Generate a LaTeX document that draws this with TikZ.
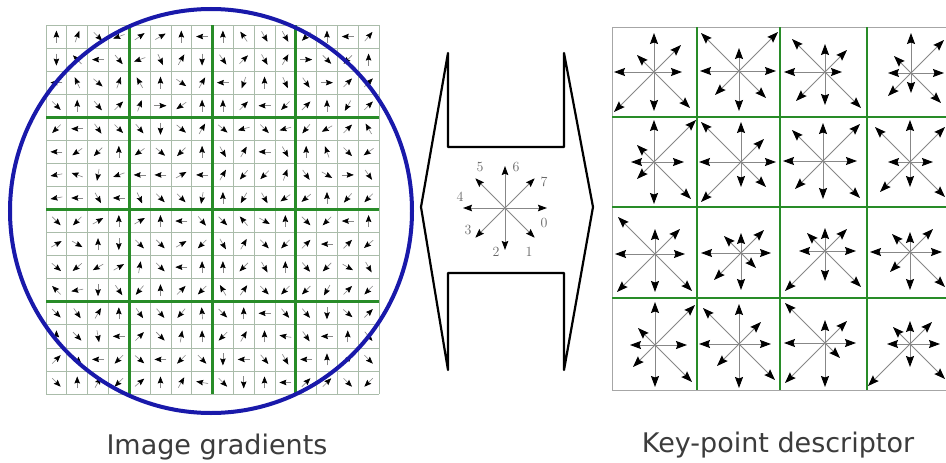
\documentclass[tikz,border=0pt]{standalone}
\usepackage{fontspec}
\setsansfont{DejaVu Sans}
\usetikzlibrary{arrows.meta}
\definecolor{gridgreen}{RGB}{40,140,40}
\definecolor{finegray}{RGB}{170,188,170}
\definecolor{circblue}{RGB}{25,25,170}
\definecolor{shaftgray}{RGB}{135,135,135}
\definecolor{captxt}{RGB}{60,60,60}
\begin{document}
\begin{tikzpicture}[x=1pt,y=-1pt,
  finegrid/.style={draw=finegray,line width=0.7pt},
  biggrid/.style={draw=gridgreen,line width=2.8pt},
  larr/.style={draw=shaftgray,line width=0.6pt,-{Stealth[color=black,length=7pt,width=5.5pt,inset=1pt]}},
  rarr/.style={draw=shaftgray,line width=0.9pt,-{Stealth[color=black,length=11pt,width=8pt,inset=1.5pt]}},
  carr/.style={draw=shaftgray,line width=0.9pt,-{Stealth[color=black,length=9pt,width=6.5pt,inset=1.2pt]}},
  lbl/.style={font=\fontsize{14}{14}\selectfont,text=black!60,inner sep=0pt},
  caption/.style={font=\sffamily\fontsize{27}{30}\selectfont,text=captxt,anchor=base}]
\useasboundingbox (0,0) rectangle (946,463);
\clip (0,0) rectangle (946,463);
\fill[white] (0,0) rectangle (946,463);
% ---------- left grid ----------
\foreach \i in {0,...,16}{
  \pgfmathsetmacro\xx{46+\i*20.8125}
  \pgfmathsetmacro\yy{25+\i*23.0625}
  \draw[finegrid] (\xx,25) -- (\xx,394);
  \draw[finegrid] (46,\yy) -- (379,\yy);
}
\foreach \i in {4,8,12}{
  \pgfmathsetmacro\xx{46+\i*20.8125}
  \pgfmathsetmacro\yy{25+\i*23.0625}
  \draw[biggrid] (\xx,25) -- (\xx,394);
  \draw[biggrid] (46,\yy) -- (379,\yy);
}
\foreach \rowlist [count=\r] in {
 {90,70,-45,200,35,30,90,180,90,125,-60,-60,225,90,180,50},
 {-90,135,180,-50,200,-65,60,-90,-55,45,-60,60,0,-45,225,90},
 {180,115,-40,70,120,90,-35,60,180,250,90,-65,-55,0,45,45},
 {-45,90,-50,45,70,0,215,90,90,45,180,225,45,90,240,45},
 {225,180,-55,-45,-50,-90,-40,60,-40,195,-45,195,230,210,45,120},
 {180,215,225,90,215,-40,225,90,-60,60,180,-60,90,110,-45,215},
 {190,160,-100,200,180,180,30,180,60,230,225,70,-55,-30,0,-55},
 {190,180,-60,180,-65,-45,-45,-100,90,240,-60,215,220,90,230,225},
 {-45,225,30,90,30,90,180,-50,-45,130,-30,90,-45,225,180,90},
 {30,-30,90,-90,-45,-45,30,225,-60,60,-45,225,45,180,45,220},
 {-40,220,210,30,80,-45,180,90,90,225,-60,90,-50,225,-30,-60},
 {135,190,-90,-55,230,90,45,225,120,55,-45,225,225,240,45,225},
 {-45,-55,60,90,-55,-50,230,95,-45,90,180,-50,-50,-90,-40,45},
 {90,-45,-80,180,45,-45,80,90,225,60,90,170,-55,180,90,-50},
 {45,-45,180,225,-40,180,225,-45,-90,180,-50,-60,180,90,45,-45},
 {-45,90,60,225,40,90,60,170,-45,-90,90,180,45,45,-45,225}}{
  \foreach \a [count=\c] in \rowlist {
    \pgfmathsetmacro\cx{46+(\c-0.5)*20.8125}
    \pgfmathsetmacro\cy{25+(\r-0.5)*23.0625}
    \draw[larr] ({\cx-6*cos(\a)},{\cy+6*sin(\a)}) -- ({\cx+6*cos(\a)},{\cy-6*sin(\a)});
  }
}
\draw[circblue,line width=4pt] (211,211) ellipse [x radius=201,y radius=202];
% ---------- middle shape ----------
\draw[line width=2.2pt,line join=round] (448,53) -- (448,147) -- (564,147) -- (564,53)
  -- (593,207) -- (564,370) -- (564,273) -- (448,273) -- (448,370) -- (421,207) -- cycle;
\coordinate (cc) at (505,208);
\foreach \k in {0,...,7}{
  \draw[carr] (cc) -- ++({45*\k}:42);
}
\node[lbl] (l0) at (544,223) {0};
\node[lbl] (l1) at (529,252) {1};
\node[lbl] (l2) at (496,252) {2};
\node[lbl] (l3) at (468,230) {3};
\node[lbl] (l4) at (460,197) {4};
\node[lbl] (l5) at (480,167) {5};
\node[lbl] (l6) at (516,167) {6};
\node[lbl] (l7) at (544,182) {7};
% ---------- right grid ----------
\draw[draw=black!35,line width=0.8pt] (612,27) rectangle (951,390);
\foreach \xx in {697,780,867}{\draw[biggrid] (\xx,27) -- (\xx,390);}
\foreach \yy in {117,207,298}{\draw[biggrid] (612,\yy) -- (951,\yy);}
\foreach \cx/\cy/\la/\lb/\lc/\ld/\le/\lf/\lg/\lh in {
  654/72/28/36/39/40/40/17/39/27,
  739/71/37/27/40/24/39/38/23/39,
  825/72/17/36/33/29/41/33/28/22,
  911/73/33/30/20/23/23/17/40/33,
  654/162/30/37/42/17/23/17/42/42,
  741/162/35/25/25/40/42/40/40/23,
  823/161/34/37/38/28/40/31/38/37,
  910/162/23/35/25/30/22/35/42/35,
  655/254/30/37/38/38/40/37/25/25,
  741/253/30/15/37/27/40/17/20/23,
  825/251/31/36/30/40/26/18/23/22,
  910/252/32/35/38/20/40/18/20/23,
  655/345/32/37/42/22/25/17/43/40,
  739/344/32/36/44/22/40/36/40/22,
  825/343/31/15/44/40/41/40/23/22,
  910/344/30/35/23/42/23/17/23/22}{
  \draw[rarr] (\cx,\cy) -- ++(\la,0);
  \draw[rarr] (\cx,\cy) -- ++(\lb,\lb);
  \draw[rarr] (\cx,\cy) -- ++(0,\lc);
  \draw[rarr] (\cx,\cy) -- ++(-\ld,\ld);
  \draw[rarr] (\cx,\cy) -- ++(-\le,0);
  \draw[rarr] (\cx,\cy) -- ++(-\lf,-\lf);
  \draw[rarr] (\cx,\cy) -- ++(0,-\lg);
  \draw[rarr] (\cx,\cy) -- ++(\lh,-\lh);
}
% ---------- captions ----------
\node[caption] (capL) at (217,454) {Image gradients};
\node[caption] (capR) at (778,452) {Key-point descriptor};
\end{tikzpicture}
\end{document}
